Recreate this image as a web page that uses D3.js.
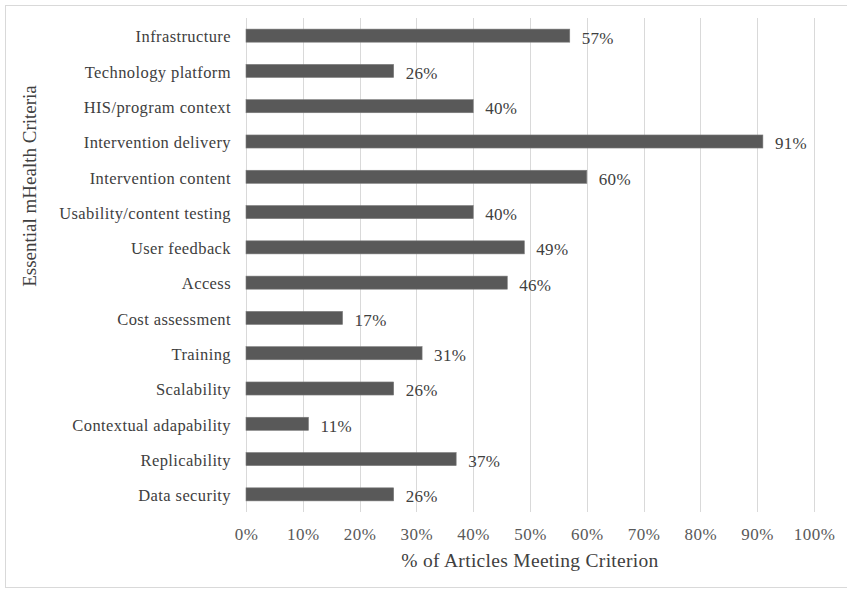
<!DOCTYPE html>
<html>
<head>
<meta charset="utf-8">
<script src="https://cdn.jsdelivr.net/npm/d3@7"></script>
<style>
  html, body { margin: 0; padding: 0; background: #fff; }
  svg { display: block; }
</style>
</head>
<body>
<svg id="chart" width="847" height="592"></svg>
<script>
// Criteria assessed, top to bottom
const categories = [
  "Infrastructure",
  "Technology platform",
  "HIS/program context",
  "Intervention delivery",
  "Intervention content",
  "Usability/content testing",
  "User feedback",
  "Access",
  "Cost assessment",
  "Training",
  "Scalability",
  "Contextual adapability",
  "Replicability",
  "Data security"
];
// Share of articles meeting each criterion (%)
const values = [57, 26, 40, 91, 60, 40, 49, 46, 17, 31, 26, 11, 37, 26];
// Axis ticks (%)
const xTicks = [0, 10, 20, 30, 40, 50, 60, 70, 80, 90, 100];

const svg = d3.select("#chart");
const font = "'Liberation Serif', 'Times New Roman', serif";

// Outer frame
svg.append("rect")
  .attr("x", 5.5).attr("y", 5.5)
  .attr("width", 842).attr("height", 582)
  .attr("fill", "#fff")
  .attr("stroke", "#d9d9d9").attr("stroke-width", 1);

const plot = { left: 246, right: 814, top: 18, bottom: 512 };

const x = d3.scaleLinear().domain([0, 100]).range([plot.left, plot.right]);
const y = d3.scaleBand().domain(categories).range([plot.top, plot.bottom]).paddingInner(0.63).paddingOuter(0.315);

// Vertical gridlines
svg.append("g")
  .selectAll("line")
  .data(xTicks)
  .join("line")
  .attr("x1", d => Math.round(x(d)) + 0.5)
  .attr("x2", d => Math.round(x(d)) + 0.5)
  .attr("y1", plot.top)
  .attr("y2", plot.bottom)
  .attr("stroke", "#d9d9d9")
  .attr("stroke-width", 1);

// X axis tick labels
const xAxis = d3.axisBottom(x).tickValues(xTicks).tickFormat(d => d + "%").tickSize(0).tickPadding(0);
const gx = svg.append("g").attr("transform", `translate(0, ${plot.bottom + 28})`).call(xAxis);
gx.select(".domain").remove();
gx.selectAll("text")
  .attr("dy", 0)
  .attr("fill", "#595959")
  .style("font-family", font)
  .style("font-size", "17px")
  .style("letter-spacing", "0.5px");

// Y axis category labels
const yAxis = d3.axisLeft(y).tickSize(0).tickPadding(15);
const gy = svg.append("g").attr("transform", `translate(${plot.left}, 1.5)`).call(yAxis);
gy.select(".domain").remove();
gy.selectAll("text")
  .attr("fill", "#404040")
  .style("font-family", font)
  .style("font-size", "16.5px")
  .style("letter-spacing", "0.4px");

// Bars
svg.append("g")
  .selectAll("rect")
  .data(values)
  .join("rect")
  .attr("x", x(0))
  .attr("y", (d, i) => y(categories[i]))
  .attr("width", d => x(d) - x(0))
  .attr("height", y.bandwidth())
  .attr("fill", "#595959")
  .attr("stroke", "#7a7a7a")
  .attr("stroke-width", 0.6);

// Value labels
svg.append("g")
  .selectAll("text")
  .data(values)
  .join("text")
  .attr("x", d => x(d) + 12)
  .attr("y", (d, i) => y(categories[i]) + y.bandwidth() / 2 + 2)
  .attr("dy", "0.35em")
  .attr("fill", "#404040")
  .style("font-family", font)
  .style("font-size", "17px")
  .style("letter-spacing", "0.3px")
  .text(d => d + "%");

// Axis titles
svg.append("text")
  .attr("x", 530)
  .attr("y", 567)
  .attr("text-anchor", "middle")
  .attr("fill", "#404040")
  .style("font-family", font)
  .style("font-size", "19.5px")
  .style("letter-spacing", "0.3px")
  .text("% of Articles Meeting Criterion");

svg.append("text")
  .attr("transform", "translate(36, 186) rotate(-90)")
  .attr("text-anchor", "middle")
  .attr("fill", "#404040")
  .style("font-family", font)
  .style("font-size", "19px")
  .text("Essential mHealth Criteria");
</script>
</body>
</html>
